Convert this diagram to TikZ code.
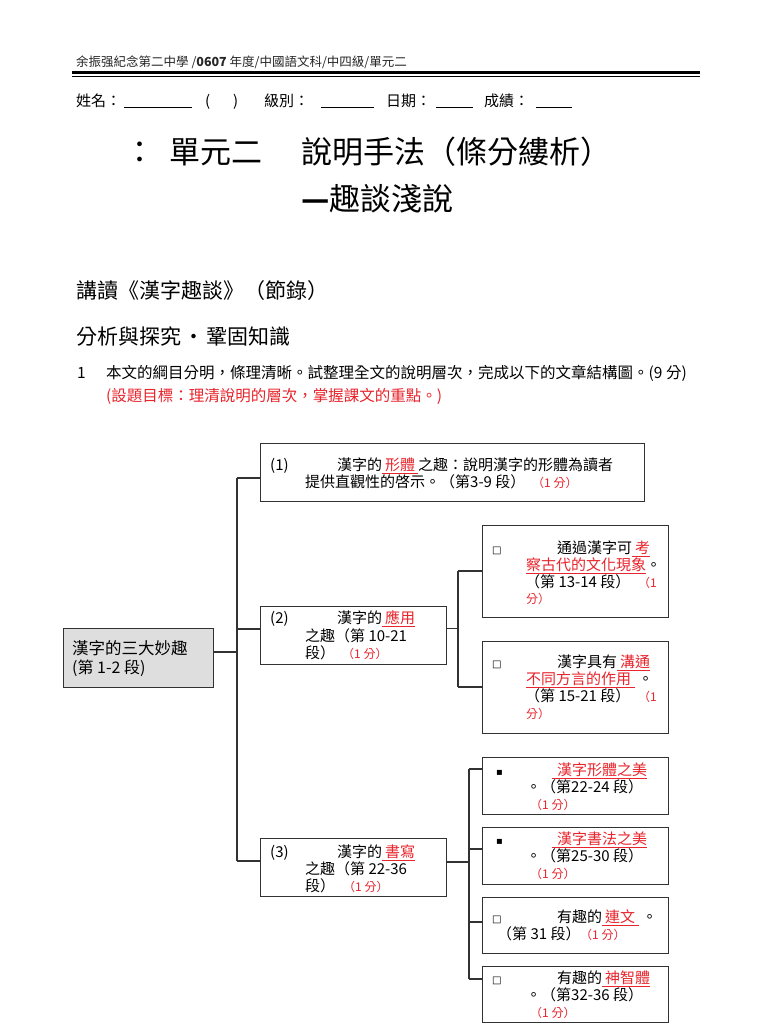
\documentclass[tikz,border=0pt]{standalone}
\usepackage{fontspec}
\setmainfont{Noto Sans CJK TC}
\newfontfamily\dejavu{DejaVu Sans}
\usetikzlibrary{calc}
\definecolor{myred}{RGB}{232,36,44}
\definecolor{boxgray}{RGB}{222,222,222}
\definecolor{linegray}{RGB}{50,50,50}
\newcommand\ul[1]{{\color{myred}\underline{#1}}}
\tikzset{
  txt/.style={anchor=base west, inner sep=0pt, font=\fontsize{15}{18}\selectfont},
  rtxt/.style={anchor=base west, inner sep=0pt, text=myred, font=\fontsize{12}{14}\selectfont},
  sym/.style={anchor=base west, inner sep=0pt, font=\dejavu\fontsize{10}{12}\selectfont},
  boxnode/.style={draw=linegray, line width=1.2pt, anchor=north west, inner sep=0pt},
  conn/.style={draw=linegray, line width=1.2pt},
}
\begin{document}
\begin{tikzpicture}[x=1pt,y=-1pt]
\useasboundingbox (0,0) rectangle (768,1024);
\fill[white] (0,0) rectangle (768,1024);

% header
\node[anchor=base west, inner sep=0pt, text=black!85, font=\fontsize{12.5}{14}\selectfont] (hdr) at (76,67) {余振强紀念第二中學 /\textbf{0607} 年度/中國語文科/中四級/單元二};
\draw[line width=3pt] (72,72.5) -- (700,72.5);
\draw[line width=1pt] (72,76.5) -- (700,76.5);

% name line
\node[txt] (nm1) at (76,106.5) {姓名：};
\draw[line width=0.8pt] (124,107.5) -- (192,107.5);
\node[txt] (nm2) at (205,106.5) {(};
\node[txt] (nm3) at (233,106.5) {)};
\node[txt] (nm4) at (264,106.5) {級別：};
\draw[line width=0.8pt] (321,107.5) -- (374,107.5);
\node[txt] (nm5) at (386,106.5) {日期：};
\draw[line width=0.8pt] (436,107.5) -- (473,107.5);
\node[txt] (nm6) at (484,106.5) {成績：};
\draw[line width=0.8pt] (536,107.5) -- (572,107.5);

% title
\node[anchor=base west, inner sep=0pt, font=\fontsize{31}{36}\selectfont] (t1a) at (124,164) {：};
\node[anchor=base west, inner sep=0pt, font=\fontsize{31}{36}\selectfont] (t1b) at (169,164) {單元二};
\node[anchor=base west, inner sep=0pt, font=\fontsize{31}{36}\selectfont] (t1c) at (301,164) {說明手法（條分縷析）};
\node[anchor=base west, inner sep=0pt, font=\fontsize{31}{36}\selectfont] (t2) at (301,211) {\textbf{—}趣談淺說};

% headings
\node[anchor=base west, inner sep=0pt, font=\fontsize{21}{24}\selectfont] (h1) at (76,298.5) {講讀《漢字趣談》（節錄）};
\node[anchor=base west, inner sep=0pt, font=\fontsize{21}{24}\selectfont] (h2) at (76,344.5) {分析與探究\hspace{2pt}・\hspace{2pt}鞏固知識};
\node[anchor=base west, inner sep=0pt, font=\fontsize{15.5}{18}\selectfont] (q1n) at (77,378.7) {1};
\node[anchor=base west, inner sep=0pt, font=\fontsize{15.5}{18}\selectfont] (q1) at (106,378.7) {本文的綱目分明，條理清晰。試整理全文的說明層次，完成以下的文章結構圖。(9 分)};
\node[anchor=base west, inner sep=0pt, text=myred, font=\fontsize{15.5}{18}\selectfont] (q1r) at (106,401.7) {(設題目標：理清說明的層次，掌握課文的重點。)};

% boxes
\node[boxnode, fill=boxgray, minimum width=150pt, minimum height=59pt] (root) at (63,628) {};
\node[boxnode, minimum width=384pt, minimum height=58pt] (b1) at (260,443) {};
\node[boxnode, minimum width=186pt, minimum height=58pt] (b2) at (260,606) {};
\node[boxnode, minimum width=186pt, minimum height=58pt] (b3) at (260,838) {};
\node[boxnode, minimum width=186pt, minimum height=92pt] (b2a) at (482,525) {};
\node[boxnode, minimum width=186pt, minimum height=92pt] (b2b) at (482,641) {};
\node[boxnode, minimum width=186pt, minimum height=57pt] (b3a) at (482,757) {};
\node[boxnode, minimum width=186pt, minimum height=57pt] (b3b) at (482,827) {};
\node[boxnode, minimum width=186pt, minimum height=56pt] (b3c) at (482,897) {};
\node[boxnode, minimum width=186pt, minimum height=56pt] (b3d) at (482,966) {};

% connectors
\coordinate (r0) at (237,652);
\coordinate (k1) at (237,478);
\coordinate (k2) at (237,629);
\coordinate (k3) at (237,861);
\draw[conn] (root.east |- r0) -- (r0);
\draw[conn] (k1) -- (k3);
\draw[conn] (k1) -- (k1 -| b1.west);
\draw[conn] (k2) -- (k2 -| b2.west);
\draw[conn] (k3) -- (k3 -| b3.west);
\coordinate (j2) at (458,628.5);
\coordinate (j2a) at (458,571);
\coordinate (j2b) at (458,687);
\draw[conn] (j2 -| b2.east) -- (j2);
\draw[conn] (j2a) -- (j2b);
\draw[conn] (j2a) -- (j2a -| b2a.west);
\draw[conn] (j2b) -- (j2b -| b2b.west);
\coordinate (j3) at (469,862);
\coordinate (j3a) at (469,769);
\coordinate (j3b) at (469,849);
\coordinate (j3c) at (469,922);
\coordinate (j3d) at (469,979);
\draw[conn] (j3 -| b3.east) -- (j3);
\draw[conn] (j3a) -- (j3d);
\draw[conn] (j3a) -- (j3a -| b3a.west);
\draw[conn] (j3b) -- (j3b -| b3b.west);
\draw[conn] (j3c) -- (j3c -| b3c.west);
\draw[conn] (j3d) -- (j3d -| b3d.west);

% root text
\node[anchor=base west, inner sep=0pt, font=\fontsize{16.5}{19}\selectfont] (rt1) at (72,654) {漢字的三大妙趣};
\node[anchor=base west, inner sep=0pt, font=\fontsize{16}{19}\selectfont] (rt2) at (72,673) {(第 1-2 段)};

% box1 text
\node[txt] (b1n) at (270,470.7) {(1)};
\node[txt] (b1l1) at (337,470.7) {漢字的\ul{\hspace{3pt}形體\hspace{3pt}}之趣：說明漢字的形體為讀者};
\node[txt] (b1l2) at (305,487.7) {提供直觀性的啓示。（第3-9 段）};
\node[rtxt] (b1r) at (532,487.7) {（1 分）};

% box2 text
\node[txt] (b2n) at (270,623.7) {(2)};
\node[txt] (b2l1) at (337,623.7) {漢字的\ul{\hspace{3pt}應用}};
\node[txt] (b2l2) at (305,641) {之趣（第 10-21};
\node[txt] (b2l3) at (305,658) {段）};
\node[rtxt] (b2r) at (342,658) {（1 分）};

% box2a text
\node[sym] (b2as) at (492,553.7) {□};
\node[txt] (b2al1) at (557,553.7) {通過漢字可\ul{\hspace{3pt}考}};
\node[txt] (b2al2) at (526,570.7) {\ul{察古代的文化現象}。};
\node[txt] (b2al3) at (525,587.7) {（第 13-14 段）};
\node[rtxt] (b2ar1) at (638,587.7) {（1};
\node[rtxt] (b2ar2) at (526,603) {分）};

% box2b text
\node[sym] (b2bs) at (492,667.7) {□};
\node[txt] (b2bl1) at (557,667.7) {漢字具有\ul{\hspace{3pt}溝通}};
\node[txt] (b2bl2) at (526,684.7) {\ul{不同方言的作用\hspace{4pt}}\hspace{3pt}。};
\node[txt] (b2bl3) at (525,701.7) {（第 15-21 段）};
\node[rtxt] (b2br1) at (638,701.7) {（1};
\node[rtxt] (b2br2) at (526,718) {分）};

% box3 text
\node[txt] (b3n) at (270,857.5) {(3)};
\node[txt] (b3l1) at (337,857.5) {漢字的\ul{\hspace{3pt}書寫}};
\node[txt] (b3l2) at (305,874.5) {之趣（第 22-36};
\node[txt] (b3l3) at (305,891) {段）};
\node[rtxt] (b3r) at (343,891) {（1 分）};

% box3a text
\node[sym] (b3as) at (496,775.7) {▪};
\node[txt] (b3al1) at (552,775.7) {\ul{\hspace{5pt}漢字形體之美}};
\node[txt] (b3al2) at (526,792.7) {。（第22-24 段）};
\node[rtxt] (b3ar) at (530,809.5) {（1 分）};

% box3b text
\node[sym] (b3bs) at (496,844.7) {▪};
\node[txt] (b3bl1) at (552,844.7) {\ul{\hspace{5pt}漢字書法之美}};
\node[txt] (b3bl2) at (526,861.7) {。（第25-30 段）};
\node[rtxt] (b3br) at (530,878.5) {（1 分）};

% box3c text
\node[sym] (b3cs) at (492,922.7) {□};
\node[txt] (b3cl1) at (557,922.7) {有趣的\ul{\hspace{3pt}連文\hspace{4pt}}\hspace{3pt}。};
\node[txt] (b3cl2) at (497,939.7) {（第 31 段）};
\node[rtxt] (b3cr) at (580,939.7) {（1 分）};

% box3d text
\node[sym] (b3ds) at (492,983.7) {□};
\node[txt] (b3dl1) at (557,983.7) {有趣的\ul{\hspace{3pt}神智體}};
\node[txt] (b3dl2) at (526,1000.7) {。（第32-36 段）};
\node[rtxt] (b3dr) at (530,1017) {（1 分）};
\end{tikzpicture}
\end{document}
